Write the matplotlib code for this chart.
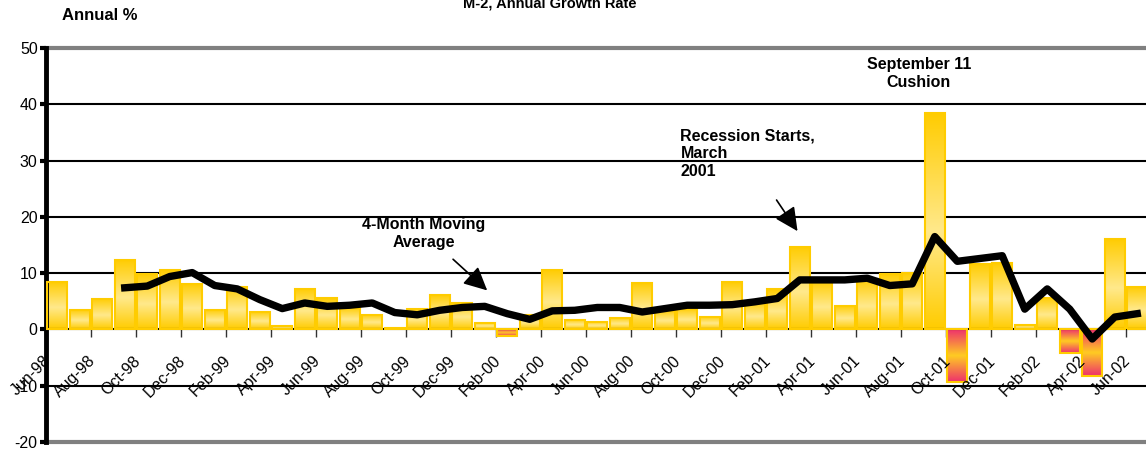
import numpy as np
import pandas as pd
import matplotlib
matplotlib.use("Agg")
import matplotlib.pyplot as plt
from matplotlib.colors import LinearSegmentedColormap
from matplotlib.transforms import offset_copy

plt.rcParams['font.family'] = ['Liberation Sans', 'DejaVu Sans']

# monthly categories Jun-98 .. Jun-02
months = pd.date_range('1998-06-01', periods=49, freq='MS').strftime('%b-%y').tolist()

# M-2 annual growth rate, % (bars)
growth = [8.5, 3.5, 5.4, 12.4, 9.8, 10.5, 8.0, 3.4, 7.5, 3.1,
          0.6, 7.2, 5.5, 3.8, 2.5, 0.3, 3.7, 6.2, 4.7, 1.2,
          -1.2, 2.6, 10.5, 1.7, 1.3, 2.1, 8.2, 3.2, 3.7, 2.2,
          8.4, 4.9, 7.1, 14.7, 8.6, 4.2, 8.9, 9.8, 10.1, 38.4,
          -9.4, 11.6, 11.8, 0.7, 5.6, -4.1, -8.3, 16.1, 7.5]

# 4-month moving average (line)
moving_avg = [np.nan, np.nan, np.nan, 7.4, 7.7, 9.4, 10.1, 7.8, 7.2, 5.3,
              3.7, 4.7, 4.1, 4.3, 4.7, 3.0, 2.6, 3.4, 3.9, 4.1,
              2.8, 1.8, 3.3, 3.4, 3.9, 3.9, 3.1, 3.7, 4.3, 4.3,
              4.4, 4.9, 5.5, 8.8, 8.8, 8.8, 9.1, 7.8, 8.1, 16.5,
              12.1, 12.6, 13.1, 3.6, 7.2, 3.6, -1.7, 2.2, 2.8]

y_ticks = [-20, -10, 0, 10, 20, 30, 40, 50]

fig = plt.figure(figsize=(11.46, 4.51), dpi=100)
ax = fig.add_axes([46 / 1146, 9 / 451, 1102.5 / 1146, 394 / 451])

x = np.arange(len(months))

# gridlines
for t in y_ticks:
    if t in (y_ticks[0], y_ticks[-1]):
        ax.axhline(t, color='#808080', lw=3, zorder=1, clip_on=False)
    elif t != 0:
        ax.axhline(t, color='black', lw=1.5, zorder=1)

# gradient bars
gold = LinearSegmentedColormap.from_list('gold', [(0, '#ffcc00'), (0.45, '#ffe98c'), (1, '#ffcc00')])
pink = LinearSegmentedColormap.from_list('pink', [(0, '#ee2f6e'), (0.5, '#ffcc22'), (1, '#ee2f6e')])
grad = np.linspace(0, 1, 256).reshape(-1, 1)

bars = ax.bar(x, growth, width=0.91, facecolor='none', edgecolor='#ffcc00', linewidth=1.5, zorder=3)
for b, v in zip(bars, growth):
    ax.imshow(grad, cmap=gold if v >= 0 else pink, origin='lower', aspect='auto',
              interpolation='bicubic', zorder=2.5,
              extent=(b.get_x(), b.get_x() + b.get_width(), min(0, v), max(0, v)))

ax.plot(x, moving_avg, color='black', lw=5.3, solid_joinstyle='round', zorder=4)

ax.set_xlim(-0.5, len(months) - 0.5)
ax.set_ylim(y_ticks[0], y_ticks[-1])

# axes styling
for s in ('top', 'right'):
    ax.spines[s].set_visible(False)
ax.spines['left'].set_linewidth(3.5)
ax.spines['bottom'].set_position(('data', 0))
ax.spines['bottom'].set_linewidth(1.5)

ax.set_yticks(y_ticks)
ax.set_yticklabels([str(t) for t in y_ticks], fontsize=11.5)
ax.tick_params(axis='y', length=4, width=3, pad=2)
ax.set_xticks(x[1::2] + 0.5)
ax.set_xticklabels([])
ax.tick_params(axis='x', length=6, width=1, color='#333333')

lbl_trans = offset_copy(ax.transData, fig=fig, x=-9, y=-29, units='dots')
for i in x[::2]:
    ax.text(i, 0, months[i], transform=lbl_trans, rotation=45, rotation_mode='anchor',
            ha='right', va='center', fontsize=11.5, clip_on=False)

# annotations
bold = dict(fontsize=11.5, fontweight='bold', linespacing=1.2)
arrow = dict(arrowstyle='-|>,head_length=0.65,head_width=0.32', color='black',
             lw=1.2, mutation_scale=22)
ax.text(16.3, 17.05, '4-Month Moving\nAverage', ha='center', va='center', **bold)
ax.annotate('', xy=(19.2, 6.6), xytext=(17.5, 12.8), arrowprops=arrow)
ax.text(27.7, 31.2, 'Recession Starts,\nMarch\n2001', ha='left', va='center', **bold)
ax.annotate('', xy=(32.97, 17.05), xytext=(31.9, 23.4), arrowprops=arrow)
ax.text(38.3, 45.5, 'September 11\nCushion', ha='center', va='center', **bold)

fig.text(100 / 1146, 1 - 16 / 451, 'Annual %', ha='center', va='center',
         fontsize=12, fontweight='bold')
fig.text(550 / 1146, 1 - 8 / 451, 'M-2, Annual Growth Rate', ha='center', va='baseline',
         fontsize=10.5, fontweight='bold')

fig.savefig('out.png', dpi=100)
